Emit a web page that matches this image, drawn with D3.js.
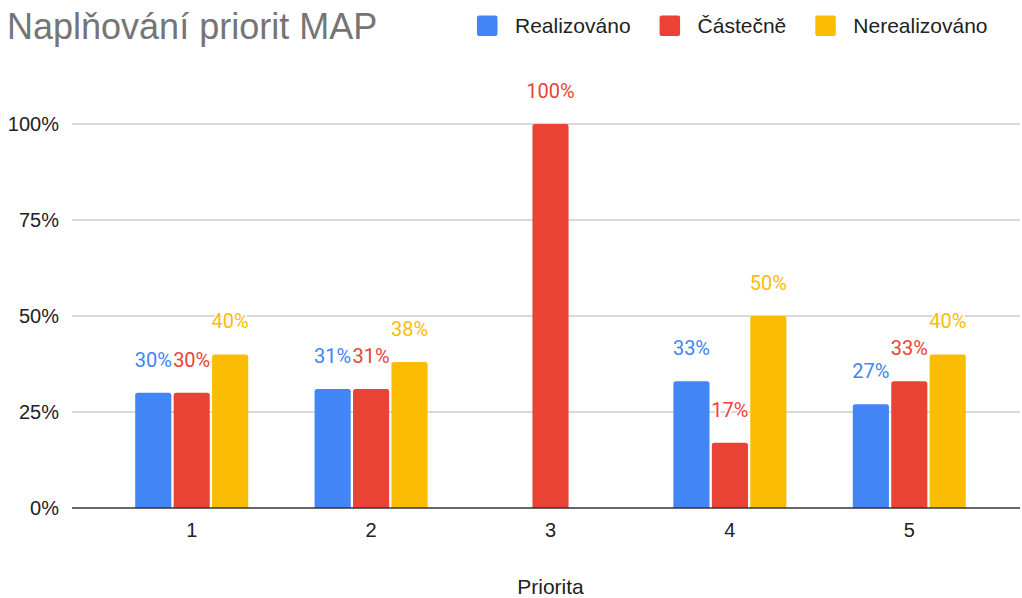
<!DOCTYPE html>
<html>
<head>
<meta charset="utf-8">
<script src="https://cdn.jsdelivr.net/npm/d3@7"></script>
<style>
  body { margin: 0; background: #fff; }
  svg text { font-family: "Liberation Sans", Arial, sans-serif; }
</style>
</head>
<body>
<main></main>
<script>
// chart data
var categories = ["1", "2", "3", "4", "5"];
var seriesNames = ["Realizováno", "Částečně", "Nerealizováno"];
var realizovano = [0.30, 0.31, 0, 0.33, 0.27];
var castecne = [0.30, 0.31, 1.00, 0.17, 0.33];
var nerealizovano = [0.40, 0.38, 0, 0.50, 0.40];
var yTicks = [0, 0.25, 0.5, 0.75, 1];
var colors = ["#4285f4", "#ea4335", "#fbbc04"];

var w = 1022,
    h = 598,
    left = 72,
    right = 1020;

var seriesValues = [realizovano, castecne, nerealizovano];

var svg = d3.select("main")
            .append("svg")
            .attr("width", w)
            .attr("height", h);

var x = d3.scaleBand()
          .domain(categories)
          .range([102, 999]);

var xSub = d3.scaleBand()
             .domain(seriesNames)
             .range([-56.5, 56.5])
             .paddingInner(0.06);

var y = d3.scaleLinear()
          .domain([0, 1])
          .range([508, 124]);

// gridlines
svg.selectAll("line.grid")
   .data(yTicks.slice(1))
   .enter()
   .append("line")
   .attr("class", "grid")
   .attr("x1", left)
   .attr("x2", right)
   .attr("y1", function (d) { return y(d); })
   .attr("y2", function (d) { return y(d); })
   .attr("stroke", "#cccccc")
   .attr("stroke-width", 1.3);

// y axis labels
var yAxis = svg.append("g")
               .attr("transform", "translate(" + left + ",0)")
               .call(d3.axisLeft(y)
                       .tickValues(yTicks)
                       .tickFormat(d3.format(".0%"))
                       .tickSize(0)
                       .tickPadding(13));
yAxis.select(".domain").remove();
yAxis.selectAll("text")
     .attr("font-family", "'Liberation Sans', Arial, sans-serif")
     .attr("font-size", "20px")
     .attr("fill", "#222222");

// bars, flattened so each has its own series + category
var bars = [];
categories.forEach(function (c, i) {
  seriesNames.forEach(function (s, j) {
    bars.push({cat: c, series: s, idx: j, value: seriesValues[j][i]});
  });
});
var shown = bars.filter(function (d) { return d.value > 0; });

function barPath(d) {
  var x0 = x(d.cat) + x.bandwidth() / 2 + xSub(d.series),
      x1 = x0 + xSub.bandwidth(),
      y0 = y(0),
      y1 = y(d.value),
      r = 2.5;
  return "M" + x0 + "," + y0 +
         "V" + (y1 + r) +
         "Q" + x0 + "," + y1 + " " + (x0 + r) + "," + y1 +
         "H" + (x1 - r) +
         "Q" + x1 + "," + y1 + " " + x1 + "," + (y1 + r) +
         "V" + y0 + "Z";
}

svg.selectAll("path.bar")
   .data(shown)
   .enter()
   .append("path")
   .attr("class", "bar")
   .attr("d", barPath)
   .attr("fill", function (d) { return colors[d.idx]; });

// baseline
svg.append("line")
   .attr("x1", left)
   .attr("x2", right)
   .attr("y1", y(0))
   .attr("y2", y(0))
   .attr("stroke", "#333333")
   .attr("stroke-width", 1.6);

// x axis labels
var xAxis = svg.append("g")
               .attr("transform", "translate(0," + y(0) + ")")
               .call(d3.axisBottom(x).tickSize(0).tickPadding(15));
xAxis.select(".domain").remove();
xAxis.selectAll("text")
     .attr("font-family", "'Liberation Sans', Arial, sans-serif")
     .attr("font-size", "20px")
     .attr("fill", "#222222");

// data labels with white halo
svg.selectAll("text.val")
   .data(shown)
   .enter()
   .append("text")
   .attr("class", "val")
   .text(function (d) { return Math.round(d.value * 100) + "%"; })
   .attr("text-anchor", "middle")
   .attr("x", function (d) {
       return x(d.cat) + x.bandwidth() / 2 + xSub(d.series) + xSub.bandwidth() / 2;
    })
   .attr("y", function (d) { return y(d.value) - 26; })
   .style("font-family", "Roboto, sans-serif")
   .attr("font-size", "20px")
   .attr("fill", function (d) { return colors[d.idx]; })
   .attr("stroke", "#ffffff")
   .attr("stroke-width", 3)
   .attr("stroke-linejoin", "round")
   .attr("paint-order", "stroke");

// title
svg.append("text")
   .text("Naplňování priorit MAP")
   .attr("x", 7)
   .attr("y", 38.5)
   .attr("font-size", "36px")
   .attr("fill", "#757575");

// x axis title
svg.append("text")
   .text("Priorita")
   .attr("x", (x.range()[0] + x.range()[1]) / 2)
   .attr("y", 594)
   .attr("text-anchor", "middle")
   .attr("font-size", "21px")
   .attr("fill", "#222222");

// legend, flowing left to right
var lx = 477;
seriesNames.forEach(function (s, j) {
  svg.append("rect")
     .attr("x", lx)
     .attr("y", 15.5)
     .attr("width", 20.5)
     .attr("height", 20.5)
     .attr("rx", 2)
     .attr("fill", colors[j]);
  var t = svg.append("text")
             .text(s)
             .attr("x", lx + 38)
             .attr("y", 33)
             .attr("font-size", "21px")
             .attr("fill", "#222222");
  lx = lx + 38 + t.node().getComputedTextLength() + 29;
});
</script>
</body>
</html>
